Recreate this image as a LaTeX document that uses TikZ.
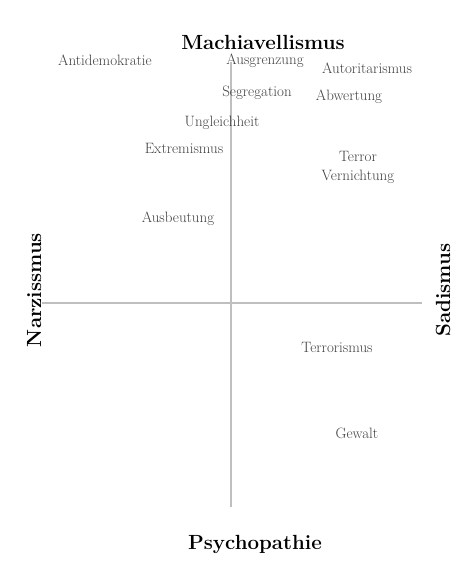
\documentclass[tikz,border=0pt]{standalone}
\usepackage{fontspec}
\setmainfont{Latin Modern Roman}
\begin{document}
\begin{tikzpicture}[x=1pt,y=-1pt,
  axis/.style={draw=black!25,line width=2pt},
  term/.style={font=\fontsize{15}{17}\selectfont,text=black!75,inner sep=0pt,align=center},
  dim/.style={font=\fontsize{20.5}{23}\selectfont\bfseries,text=black,inner sep=0pt}]
\useasboundingbox (0,0) rectangle (455,568);
\coordinate (top) at (231,62);
\coordinate (bot) at (231,507);
\coordinate (lft) at (42,303);
\coordinate (rgt) at (422,303);
\draw[axis] (top) -- (bot);
\draw[axis] (lft) -- (rgt);
\node[dim] (mach) at (263,42) {Machiavellismus};
\node[dim] (psy) at (255,544) {Psychopathie};
\node[dim,rotate=90,anchor=base] (narz) at (41,290) {Narzissmus};
\node[dim,rotate=90,anchor=base] (sad) at (450,290) {Sadismus};
\node[term] (antidem) at (105,60) {Antidemokratie};
\node[term] (ausgr) at (265,61) {Ausgrenzung};
\node[term] (autor) at (367,68) {Autoritarismus};
\node[term] (segr) at (257,93) {Segregation};
\node[term] (abw) at (349,97) {Abwertung};
\node[term] (ungl) at (222,123) {Ungleichheit};
\node[term] (extr) at (184,148) {Extremismus};
\node[term] (terror) at (358,167) {Terror\\[2pt]Vernichtung};
\node[term] (ausb) at (178,219) {Ausbeutung};
\node[term] (terrism) at (337,347) {Terrorismus};
\node[term] (gew) at (357,433) {Gewalt};
\end{tikzpicture}
\end{document}
